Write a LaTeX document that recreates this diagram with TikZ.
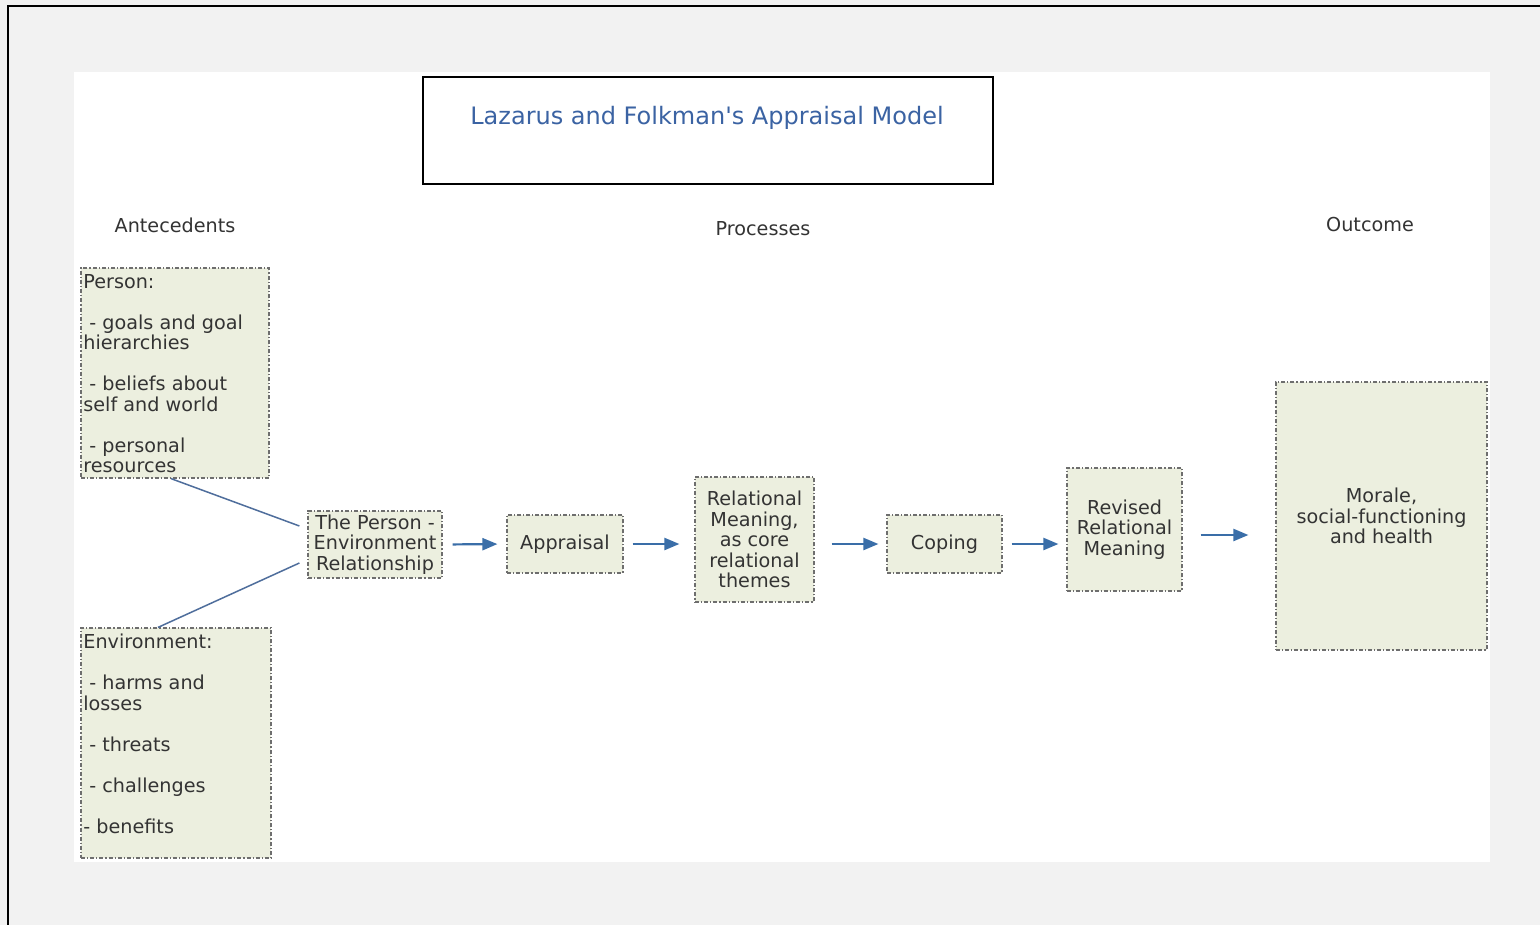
\documentclass[tikz,border=0pt]{standalone}
\usepackage{fontspec}
\setmainfont{DejaVu Sans}[Ligatures=TeXOff]
\usetikzlibrary{arrows.meta,calc}
\definecolor{pagebg}{HTML}{F2F2F2}
\definecolor{boxfill}{HTML}{ECEFDF}
\definecolor{boxline}{HTML}{6E6E6E}
\definecolor{arrowblue}{HTML}{3A6EA8}
\definecolor{titleblue}{HTML}{3B63A3}
\definecolor{ink}{HTML}{333333}
\definecolor{linkblue}{HTML}{4F6E9C}

\begin{document}
\begin{tikzpicture}[x=0.5pt,y=-0.5pt,
  stage/.style={draw=boxline, fill=boxfill, line width=0.6pt,
    dash pattern=on 2pt off 1pt on 0.6pt off 1pt, inner sep=0pt},
  body/.style={text=ink, font=\fontsize{9.6}{10.25}\selectfont, inner sep=0pt},
  heading/.style={text=ink, font=\fontsize{9.6}{11}\selectfont, inner sep=0pt},
  arr/.style={draw=arrowblue, line width=1.1pt, -{Triangle[length=7.5pt,width=6pt]}},
  link/.style={draw=linkblue, line width=0.75pt}]

% page and panel
\useasboundingbox (0,0) rectangle (1540,925);
\fill[pagebg] (0,0) rectangle (1540,925);
\fill[white] (74,72) rectangle (1490,862);
\draw[line width=1pt] (8,925) -- (8,6) -- (1540,6);

% title
\node[draw=black, fill=white, line width=0.8pt, minimum width=285pt, minimum height=53.5pt, inner sep=0pt] (titlebox) at (708,130.5) {};
\node[text=titleblue, font=\fontsize{12}{14}\selectfont, inner sep=0pt] (title) at (707,118) {Lazarus and Folkman's Appraisal Model};

% column headings
\node[heading] (hant) at (175,225) {Antecedents};
\node[heading] (hproc) at (763,229) {Processes};
\node[heading] (hout) at (1370,225) {Outcome};

% antecedents
\node[stage, minimum width=94pt, minimum height=105pt] (person) at (175,373) {};
\node[body, align=left, anchor=north west] (persontext) at (83,274)
  {Person:\\[10.25pt]
   \hspace*{3pt}- goals and goal\\
   hierarchies\\[10.25pt]
   \hspace*{3pt}- beliefs about\\
   self and world\\[10.25pt]
   \hspace*{3pt}- personal\\
   resources};

\node[stage, minimum width=95pt, minimum height=115pt] (env) at (176,743) {};
\node[body, align=left, anchor=north west] (envtext) at (83,634)
  {Environment:\\[10.25pt]
   \hspace*{3pt}- harms and\\
   losses\\[10.25pt]
   \hspace*{3pt}- threats\\[10.25pt]
   \hspace*{3pt}- challenges\\[10.25pt]
   - benefits};

% processes
\node[stage, body, align=center, minimum width=67pt, minimum height=33.5pt] (pe) at (375,544.5)
  {The Person -\\Environment\\Relationship};
\node[stage, body, align=center, minimum width=58pt, minimum height=29pt] (app) at (565,544)
  {Appraisal};
\node[stage, body, align=center, minimum width=59.5pt, minimum height=62.5pt] (rel) at (754.5,539.5)
  {Relational\\Meaning,\\as core\\relational\\themes};
\node[stage, body, align=center, minimum width=57.5pt, minimum height=29pt] (cope) at (944.5,544)
  {Coping};
\node[stage, body, align=center, minimum width=57.5pt, minimum height=61.5pt] (rev) at (1124.5,529.5)
  {Revised\\Relational\\Meaning};

% outcome
\node[stage, body, align=center, minimum width=105.5pt, minimum height=134pt] (mor) at (1381.5,516)
  {Morale,\\social-functioning\\and health};

% antecedents feed the person-environment relationship
\coordinate (pein1) at ($(pe.west)+(-8,-18.5)$);
\coordinate (pein2) at ($(pe.west)+(-8,18.5)$);
\draw[link] ($(person.south)+(-4,0)$) -- (pein1);
\draw[link] ($(env.north)+(-18,0)$) -- (pein2);

% process chain
\draw[arr, shorten <=5pt, shorten >=4.5pt] (pe.east) -- (app.west);
\draw[arr, shorten <=4.5pt, shorten >=7.5pt] (app.east) -- (rel.west |- app.east);
\draw[arr, shorten <=8.5pt, shorten >=4pt] (rel.east |- cope.west) -- (cope.west);
\draw[arr, shorten <=4.5pt, shorten >=4pt] (cope.east) -- (rev.west |- cope.east);
\draw[arr, shorten <=9pt, shorten >=13.5pt] ($(rev.east)+(0,5.5)$) -- ($(mor.west)+(0,19)$);
\end{tikzpicture}
\end{document}
